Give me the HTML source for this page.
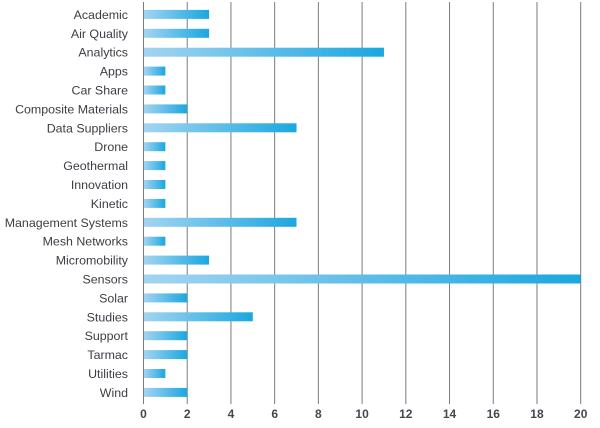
<!DOCTYPE html>
<html><head><style>
body{margin:0;background:#fff;}
</style></head><body>
<svg width="600" height="423" xmlns="http://www.w3.org/2000/svg" font-family="Liberation Sans, sans-serif">
<defs><linearGradient id="g" x1="0" x2="1" y1="0" y2="0"><stop offset="0" stop-color="#a3d4f1"/><stop offset="1" stop-color="#1aa7e0"/></linearGradient></defs>
<g id="grid" stroke="#7a7a82" stroke-width="1"></g>
<g id="bars"></g>
<g id="labels" font-size="12.4" fill="#3d3d45" text-anchor="end"></g>
<g id="ticks" font-size="12" font-weight="bold" fill="#4a4450" text-anchor="middle"></g>
<script>
var d=[["Academic",3],["Air Quality",3],["Analytics",11],["Apps",1],["Car Share",1],["Composite Materials",2],["Data Suppliers",7],["Drone",1],["Geothermal",1],["Innovation",1],["Kinetic",1],["Management Systems",7],["Mesh Networks",1],["Micromobility",3],["Sensors",20],["Solar",2],["Studies",5],["Support",2],["Tarmac",2],["Utilities",1],["Wind",2]];
var ns="http://www.w3.org/2000/svg",x0=143.5,u=21.86;
function el(p,t,a,txt){var e=document.createElementNS(ns,t);for(var k in a)e.setAttribute(k,a[k]);if(txt!=null)e.textContent=txt;document.getElementById(p).appendChild(e);}
for(var i=0;i<=10;i++){var x=x0+i*2*u;el("grid","line",{x1:x,x2:x,y1:2,y2:404});el("ticks","text",{x:x,y:418},String(i*2));}
d.forEach(function(r,i){var c=14.4+i*18.9;el("bars","rect",{x:x0+0.5,y:c-4.5,width:r[1]*u-0.5,height:9,fill:"url(#g)"});el("labels","text",{x:128,y:c+4.5},r[0]);});
</script>
</svg>
</body></html>
